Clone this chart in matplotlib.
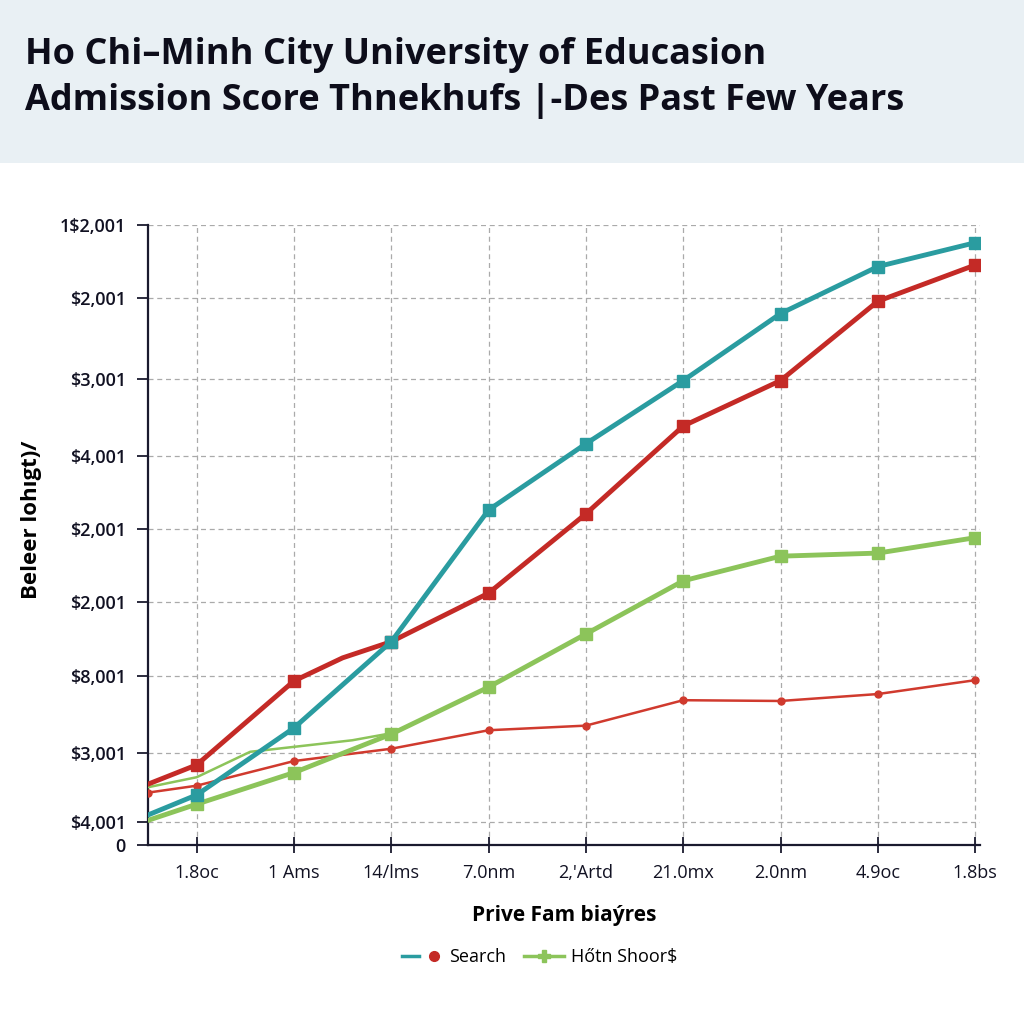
import matplotlib
matplotlib.use("Agg")
import matplotlib.pyplot as plt
from matplotlib.lines import Line2D
from matplotlib.legend_handler import HandlerTuple

plt.rcParams['font.family'] = ['Open Sans', 'DejaVu Sans']

# Data (x = category index, -0.5 is the left edge)
x_cats = ['1.8oc', '1 Ams', '14/lms', '7.0nm', "2,'Artd", '21.0mx', '2.0nm', '4.9oc', '1.8bs']
x_pts = [-0.5, 0, 1, 2, 3, 4, 5, 6, 7, 8]

teal_vals = [0.39, 0.65, 1.52, 2.64, 4.35, 5.21, 6.03, 6.90, 7.51, 7.82]
red_x = [-0.5, 0, 1, 1.5, 2, 3, 4, 5, 6, 7, 8]
red_vals = [0.79, 1.04, 2.13, 2.43, 2.64, 3.27, 4.30, 5.44, 6.03, 7.06, 7.53]
green_vals = [0.32, 0.53, 0.94, 1.44, 2.05, 2.74, 3.43, 3.75, 3.79, 3.99]
thin_red_vals = [0.68, 0.77, 1.09, 1.25, 1.49, 1.55, 1.88, 1.87, 1.96, 2.14]
thin_green_x = [-0.5, 0, 0.55, 1.6, 1.95]
thin_green_vals = [0.75, 0.88, 1.21, 1.36, 1.44]

y_ticks = [0, 0.3, 1.2, 2.2, 3.15, 4.1, 5.05, 6.05, 7.1, 8.05]
y_labels = ['0', '$4,001', '$3,001', '$8,001', '$2,001', '$2,001',
            '$4,001', '$3,001', '$2,001', '1$2,001']

teal = '#2a9ca0'
red = '#c42a26'
green = '#8cc45a'
thin_red = '#d03a2e'

fig = plt.figure(figsize=(10.24, 10.24), dpi=100)
fig.patch.set_facecolor('white')

# title band
band = fig.add_axes([0, 1 - 163 / 1024, 1, 163 / 1024])
band.set_facecolor('#e9f0f4')
band.set_xticks([])
band.set_yticks([])
for s in band.spines.values():
    s.set_visible(False)
fig.text(25 / 1024, 1 - 55 / 1024, 'Ho Chi\u2013Minh City University of Educasion',
         fontsize=26, fontweight='bold', color='#0d0d1a', va='center', ha='left')
fig.text(25 / 1024, 1 - 101 / 1024, 'Admission Score Thnekhufs |-Des Past Few Years',
         fontsize=26, fontweight='bold', color='#0d0d1a', va='center', ha='left')

ax = fig.add_axes([148 / 1024, 1 - 845 / 1024, (980 - 148) / 1024, (845 - 225) / 1024])

ax.plot(x_pts, thin_red_vals, color=thin_red, lw=1.8, marker='o', ms=5, zorder=3)
ax.plot(thin_green_x, thin_green_vals, color=green, lw=1.8, zorder=3)
ax.plot(x_pts, green_vals, color=green, lw=3.5, marker='s', ms=9,
        markevery=list(range(1, 10)), zorder=4)
ax.plot(red_x, red_vals, color=red, lw=3.5, marker='s', ms=8,
        markevery=[1, 2, 4, 5, 6, 7, 8, 9, 10], zorder=5)
ax.plot(x_pts, teal_vals, color=teal, lw=3.5, marker='s', ms=9,
        markevery=list(range(1, 10)), zorder=6)

ax.set_xlim(-0.5, 8.05)
ax.set_ylim(0, 8.05)
ax.set_xticks(range(len(x_cats)))
ax.set_xticklabels(x_cats, fontsize=13, color='#111122', fontweight='medium')
ax.set_yticks(y_ticks)
ax.set_yticklabels(y_labels, fontsize=13, color='#111122', fontweight='semibold')
ax.tick_params(axis='x', direction='inout', length=12, width=1.3, pad=8, color='#1a1a2e')
ax.tick_params(axis='y', direction='out', length=8, width=1.3, pad=8, color='#1a1a2e')
ax.grid(True, ls=(0, (4, 3)), color='#aaaaaa', lw=0.9)
ax.set_axisbelow(True)
for side in ['top', 'right']:
    ax.spines[side].set_visible(False)
for side in ['left', 'bottom']:
    ax.spines[side].set_linewidth(1.6)
    ax.spines[side].set_color('#1a1a2e')

ax.set_xlabel('Prive Fam bia\u00fdres', fontsize=15, fontweight='bold', labelpad=16)
fig.text(32 / 1024, 1 - 520 / 1024, 'Beleer loh\u0131gt\u0029/', rotation=90,
         fontsize=16, fontweight='bold', va='center', ha='center')

h1 = (Line2D([], [], color=teal, lw=2.5), Line2D([], [], color=red, marker='o', ms=7, lw=0))
h2 = Line2D([], [], color=green, lw=2.5, marker='P', ms=8)
fig.legend([h1, h2], ['Search', 'H\u0151tn Shoor$'], loc='center',
           bbox_to_anchor=(540 / 1024, 1 - 957 / 1024), ncol=2, frameon=False,
           fontsize=13, handlelength=2.2, columnspacing=1.0, handletextpad=0.4,
           handler_map={tuple: HandlerTuple(ndivide=None)})

fig.savefig('out.png', dpi=100)
